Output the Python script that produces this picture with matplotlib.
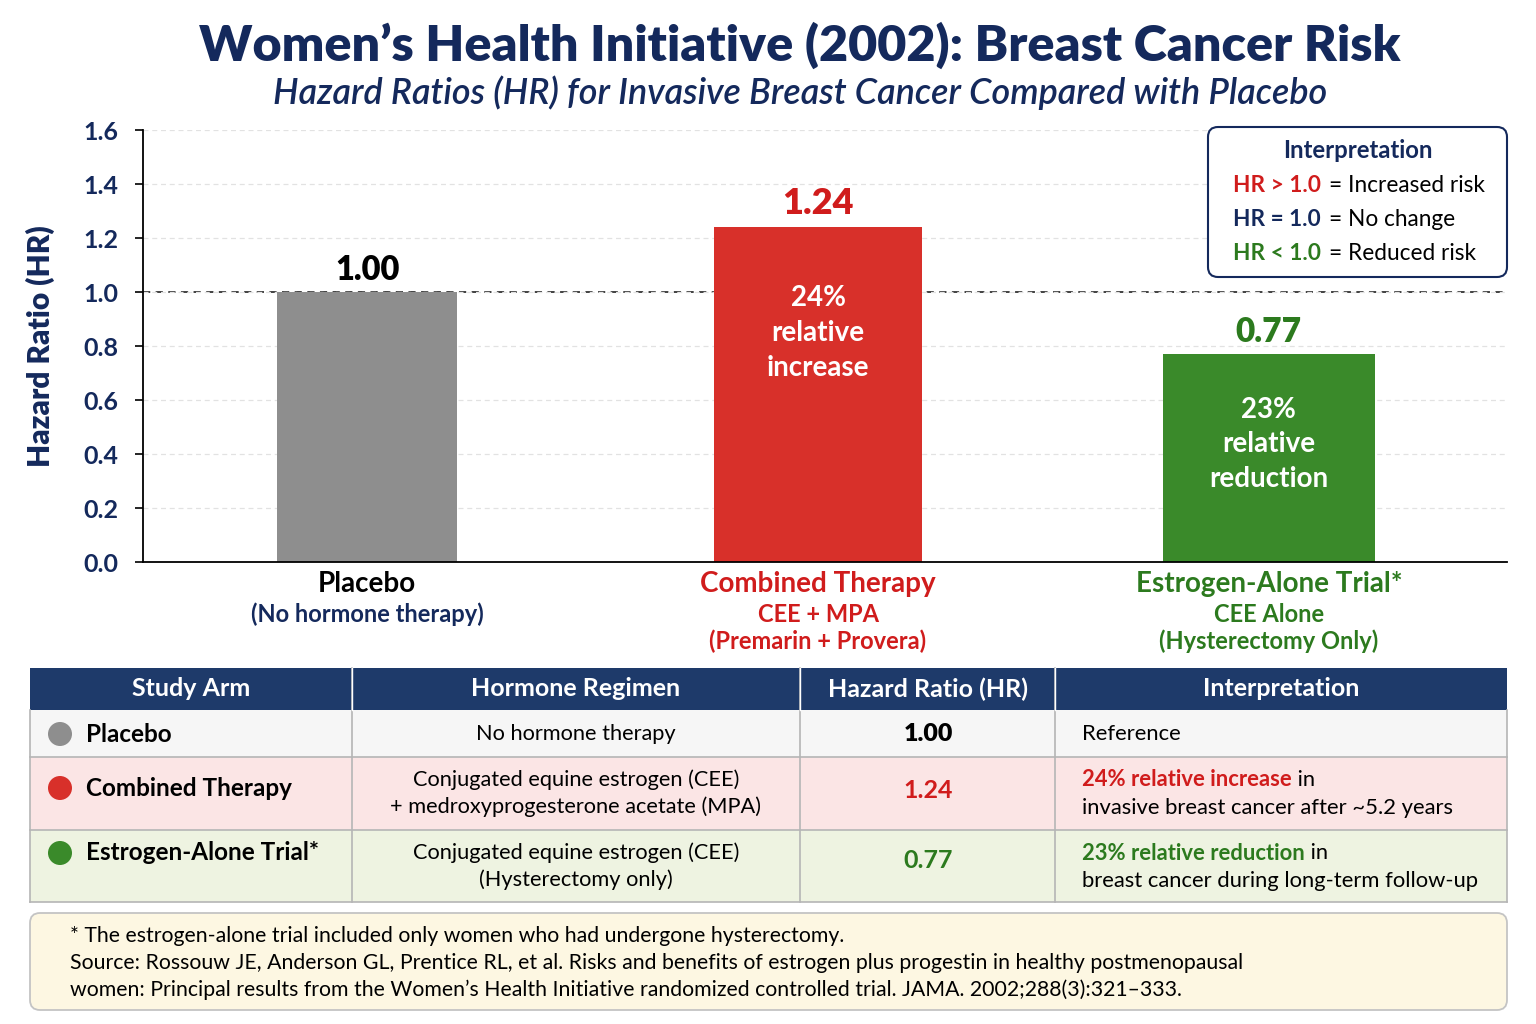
import matplotlib
matplotlib.use("Agg")
import matplotlib.pyplot as plt
from matplotlib.patches import FancyBboxPatch, Rectangle, Circle
from matplotlib.transforms import blended_transform_factory

plt.rcParams["font.family"] = ["Lato", "DejaVu Sans"]

# ---- data ----
arms = ["Placebo", "Combined Therapy", "Estrogen-Alone Trial*"]
hazard_ratios = [1.00, 1.24, 0.77]
arm_sublabels = [["(No hormone therapy)"],
                 ["CEE + MPA", "(Premarin + Provera)"],
                 ["CEE Alone", "(Hysterectomy Only)"]]
bar_notes = ["", "24%\nrelative\nincrease", "23%\nrelative\nreduction"]
y_ticks = [0.0, 0.2, 0.4, 0.6, 0.8, 1.0, 1.2, 1.4, 1.6]

table_header = ["Study Arm", "Hormone Regimen", "Hazard Ratio (HR)", "Interpretation"]
regimens = ["No hormone therapy",
            "Conjugated equine estrogen (CEE)\n+ medroxyprogesterone acetate (MPA)",
            "Conjugated equine estrogen (CEE)\n(Hysterectomy only)"]
interp_lead = ["", "24% relative increase", "23% relative reduction"]
interp_first = ["Reference", " in", " in"]
interp_second = ["", "invasive breast cancer after ~5.2 years",
                 "breast cancer during long-term follow-up"]

legend_keys = ["HR > 1.0", "HR = 1.0", "HR < 1.0"]
legend_vals = ["= Increased risk", "= No change", "= Reduced risk"]

footnote = ("* The estrogen-alone trial included only women who had undergone hysterectomy.\n"
            "Source: Rossouw JE, Anderson GL, Prentice RL, et al. Risks and benefits of estrogen plus progestin in healthy postmenopausal\n"
            "women: Principal results from the Women\u2019s Health Initiative randomized controlled trial. JAMA. 2002;288(3):321\u2013333.")

# ---- styles ----
NAVY = "#14295c"
HEAD = "#1e3a6a"
GRAY = "#8e8e8e"
RED = "#d8302a"
GREEN = "#3a8a2a"
RED_TXT = "#d01c1c"
GREEN_TXT = "#2c7a1e"
bar_colors = [GRAY, RED, GREEN]
label_colors = ["black", RED_TXT, GREEN_TXT]
sub_colors = [NAVY, RED_TXT, GREEN_TXT]
value_colors = ["black", RED_TXT, GREEN_TXT]
value_sizes = [23.5, 26, 24]
value_offsets = [16, 17, 16]
note_offsets = [0, -76, -65]
widths = [0.40, 0.46, 0.47]
row_bg = ["#f6f6f6", "#fbe5e5", "#eef3e1"]

fig = plt.figure(figsize=(15.36, 10.24), dpi=100)

# overlay in pixel coords
ov = fig.add_axes([0, 0, 1, 1], zorder=3)
ov.set_xlim(0, 1536)
ov.set_ylim(1024, 0)
ov.axis("off")

ax = fig.add_axes([143 / 1536, 1 - 562 / 1024, (1507 - 143) / 1536, (562 - 130) / 1024], zorder=1)
xs = list(range(len(arms)))
ax.bar(xs, hazard_ratios, width=widths, color=bar_colors, zorder=2)
ax.set_xlim(-0.497, 2.528)
ax.set_ylim(0, 1.6)
ax.set_yticks(y_ticks)
ax.set_yticklabels([f"{t:.1f}" for t in y_ticks], fontsize=18, fontweight="bold", color=NAVY)
ax.tick_params(axis="y", length=6, width=1.2, pad=12)
ax.set_xticks([])
for s in ["top", "right"]:
    ax.spines[s].set_visible(False)
ax.spines["left"].set_linewidth(1.3)
ax.spines["bottom"].set_linewidth(1.3)
ax.grid(axis="y", color="#e2e2e2", linestyle=(0, (4, 3)), linewidth=0.9, zorder=0)
ax.axhline(1.0, color="#333333", linestyle=(0, (4, 3)), linewidth=1.3, zorder=1)
ax.set_ylabel("Hazard Ratio (HR)", fontsize=21.5, fontweight="heavy", color=NAVY, labelpad=20)

for x, v, c, fs, off, note, noff in zip(xs, hazard_ratios, value_colors, value_sizes,
                                         value_offsets, bar_notes, note_offsets):
    ax.annotate(f"{v:.2f}", xy=(x, v), xytext=(0, off), textcoords="offset points",
                ha="center", va="center", fontsize=fs, fontweight="heavy", color=c)
    if note:
        ax.annotate(note, xy=(x, v), xytext=(0, noff), textcoords="offset points",
                    ha="center", va="center", fontsize=20, fontweight="bold",
                    color="white", linespacing=1.42)

tr = blended_transform_factory(ax.transData, ov.transData)
for x, name, subs, c, sc in zip(xs, arms, arm_sublabels, label_colors, sub_colors):
    ax.text(x, 584, name, transform=tr, ha="center", va="center", fontsize=20,
            fontweight="bold", color=c)
    for i, s in enumerate(subs):
        ax.text(x, 614 + 27 * i, s, transform=tr, ha="center", va="center",
                fontsize=17, fontweight="bold", color=sc)

# titles
ov.text(800, 45, "Women\u2019s Health Initiative (2002): Breast Cancer Risk", ha="center",
        va="center", fontsize=36.2, fontweight="heavy", color=NAVY)
ov.text(800, 93, "Hazard Ratios (HR) for Invasive Breast Cancer Compared with Placebo",
        ha="center", va="center", fontsize=25.8, fontstyle="italic", fontweight="semibold",
        color=NAVY)

# interpretation box
ov.add_patch(FancyBboxPatch((1208, 127), 299, 150, boxstyle="round,pad=0,rounding_size=10",
                            facecolor="white", edgecolor=NAVY, linewidth=1.5))
ov.text(1358, 151, "Interpretation", ha="center", va="center", fontsize=17.2,
        fontweight="bold", color=NAVY)
for i, (k, v, c) in enumerate(zip(legend_keys, legend_vals, [RED_TXT, NAVY, GREEN_TXT])):
    y = 185 + 34 * i
    ov.text(1233, y, k, ha="left", va="center", fontsize=16.3, fontweight="bold", color=c)
    ov.text(1329, y, v, ha="left", va="center", fontsize=16.3, color="black")

# table
cols = [30, 352, 800, 1055, 1507]
rows = [668, 710, 757, 830, 902]
ov.add_patch(Rectangle((cols[0], rows[0]), cols[-1] - cols[0], rows[1] - rows[0],
                       facecolor=HEAD, edgecolor="none"))
for j, h in enumerate(table_header):
    ov.text((cols[j] + cols[j + 1]) / 2, 689, h, ha="center", va="center", fontsize=18,
            fontweight="bold", color="white")
for i in range(3):
    ov.add_patch(Rectangle((cols[0], rows[i + 1]), cols[-1] - cols[0], rows[i + 2] - rows[i + 1],
                           facecolor=row_bg[i], edgecolor="none"))
for y in rows[2:]:
    ov.plot([cols[0], cols[-1]], [y, y], color="#b5b5b5", lw=1.2)
ov.plot([cols[0], cols[0]], [rows[1], rows[-1]], color="#b5b5b5", lw=1.2)
ov.plot([cols[-1], cols[-1]], [rows[1], rows[-1]], color="#b5b5b5", lw=1.2)
for x in cols[1:-1]:
    ov.plot([x, x], [rows[0], rows[-1]], color="#b5b5b5", lw=1.2)
for x in cols[1:-1]:
    ov.plot([x, x], [rows[0], rows[1]], color="white", lw=1.0)

arm_y = [734, 788, 853]
hr_y = [734, 790, 861]
for i in range(3):
    ov.add_patch(Circle((60, arm_y[i]), 12, facecolor=bar_colors[i], edgecolor="none"))
    ov.text(86, arm_y[i], arms[i], ha="left", va="center", fontsize=17.5, fontweight="bold",
            color="black")
    ymid = (rows[i + 1] + rows[i + 2]) / 2
    ov.text(576, ymid, regimens[i], ha="center", va="center", fontsize=15.7, color="black",
            linespacing=1.4)
    ov.text(928, hr_y[i], f"{hazard_ratios[i]:.2f}", ha="center", va="center", fontsize=18,
            fontweight="heavy" if i == 0 else "bold", color=value_colors[i])

fig.canvas.draw()
renderer = fig.canvas.get_renderer()
for i in range(3):
    if interp_lead[i]:
        y1, y2 = [(780, 808), (853, 881)][i - 1]
        t = ov.text(1082, y1, interp_lead[i], ha="left", va="center", fontsize=15.8,
                    fontweight="bold", color=value_colors[i])
        bb = t.get_window_extent(renderer)
        ov.text(bb.x1, y1, interp_first[i], ha="left", va="center", fontsize=15.8, color="black")
        ov.text(1082, y2, interp_second[i], ha="left", va="center", fontsize=15.8, color="black")
    else:
        ov.text(1082, 734, interp_first[i], ha="left", va="center", fontsize=15.8, color="black")

# footnote
ov.add_patch(FancyBboxPatch((30, 913), 1477, 97, boxstyle="round,pad=0,rounding_size=10",
                            facecolor="#fdf7e2", edgecolor="#c4c4c4", linewidth=1.3))
ov.text(70, 963, footnote, ha="left", va="center", fontsize=15.3, color="black",
        linespacing=1.42)

fig.savefig("out.png", dpi=100)
